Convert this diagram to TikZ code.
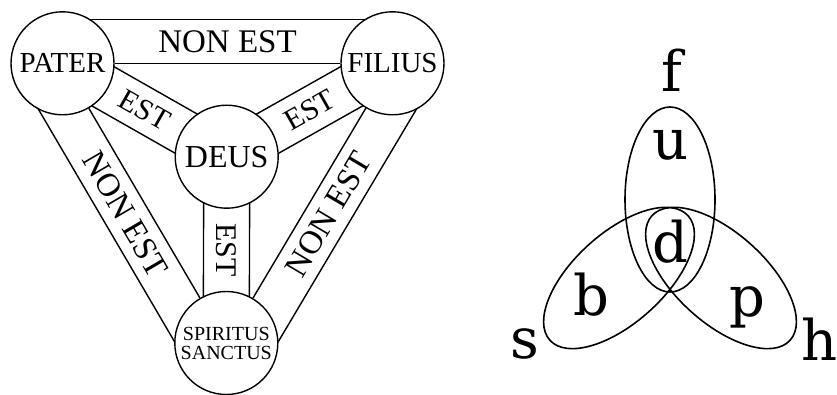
\documentclass[tikz,border=0pt]{standalone}
\usepackage{fontspec}
\setmainfont{Liberation Serif}
\newfontfamily\lettersfont{DejaVu Serif}
\usetikzlibrary{calc,backgrounds}
\begin{document}
\begin{tikzpicture}[x=1pt,y=-1pt,
  disc/.style={circle,draw,line width=1.4pt,fill=white,minimum size=103pt,inner sep=0pt},
  band/.style={line width=1.4pt},
  lbl/.style={inner sep=0pt},
  nonest/.style={lbl,font=\fontsize{33}{33}\selectfont},
  est/.style={lbl,font=\fontsize{30}{30}\selectfont},
  loopline/.style={line width=1.6pt},
  letter/.style={inner sep=0pt,anchor=base,font=\lettersfont\fontsize{56}{56}\selectfont}]
\useasboundingbox (0,0) rectangle (837,395);
% circles
\node[disc,font=\fontsize{29}{29}\selectfont] (P) at (62.5,63.3) {PATER};
\node[disc,font=\fontsize{29}{29}\selectfont] (F) at (392.5,63.3) {FILIUS};
\node[disc,font=\fontsize{32}{32}\selectfont] (D) at (226.7,156.7) {DEUS};
\node[disc,font=\fontsize{20}{20}\selectfont,align=center] (S) at (226.3,343) {SPIRITUS\\[-1pt]SANCTUS};
% bands
\begin{scope}[on background layer]
  % NON EST bands
  \draw[band] (P) -- (F);
  \draw[band] ($(P)!44pt!90:(F)$) -- ($(F)!44pt!-90:(P)$);
  \draw[band] (P) -- (S);
  \draw[band] ($(P)!44pt!-90:(S)$) -- ($(S)!44pt!90:(P)$);
  \draw[band] (F) -- (S);
  \draw[band] ($(F)!44pt!90:(S)$) -- ($(S)!44pt!-90:(F)$);
  % EST bands
  \draw[band] ($(P)!22.5pt!90:(D)$) -- ($(D)!22.5pt!-90:(P)$);
  \draw[band] ($(P)!22.5pt!-90:(D)$) -- ($(D)!22.5pt!90:(P)$);
  \draw[band] ($(F)!22.5pt!90:(D)$) -- ($(D)!22.5pt!-90:(F)$);
  \draw[band] ($(F)!22.5pt!-90:(D)$) -- ($(D)!22.5pt!90:(F)$);
  \draw[band] ($(D)!23pt!90:(S)$) -- ($(S)!23pt!-90:(D)$);
  \draw[band] ($(D)!23pt!-90:(S)$) -- ($(S)!23pt!90:(D)$);
\end{scope}
% band labels
\path ($(P)!22pt!90:(F)$) -- ($(F)!22pt!-90:(P)$) node[midway,sloped,nonest] (t1) {NON EST};
\path ($(P)!22pt!-90:(S)$) -- ($(S)!22pt!90:(P)$) node[midway,sloped,nonest] (t2) {NON EST};
\path ($(S)!22pt!-90:(F)$) -- ($(F)!22pt!90:(S)$) node[midway,sloped,nonest] (t3) {NON EST};
\path (P) -- (D) node[midway,sloped,est] (e1) {EST};
\path (D) -- (F) node[midway,sloped,est] (e2) {EST};
\node[est,rotate=-90] (e3) at ($(D)!0.5!(S)$) {EST};
% right figure
\draw[loopline] (670,199.5) ellipse [x radius=45,y radius=92.5];
\draw[loopline,rotate around={42:(619,278)}] (619,278) ellipse [x radius=93,y radius=45];
\draw[loopline,rotate around={-42:(721,278)}] (721,278) ellipse [x radius=93,y radius=45];
\node[letter] (lf) at (671.5,92) {f};
\node[letter] (lu) at (671,160) {u};
\node[letter] (ld) at (670,262) {d};
\node[letter] (lb) at (591,315) {b};
\node[letter] (lp) at (747.5,316) {p};
\node[letter] (ls) at (525,358) {s};
\node[letter] (lh) at (820,360) {h};
\end{tikzpicture}
\end{document}
